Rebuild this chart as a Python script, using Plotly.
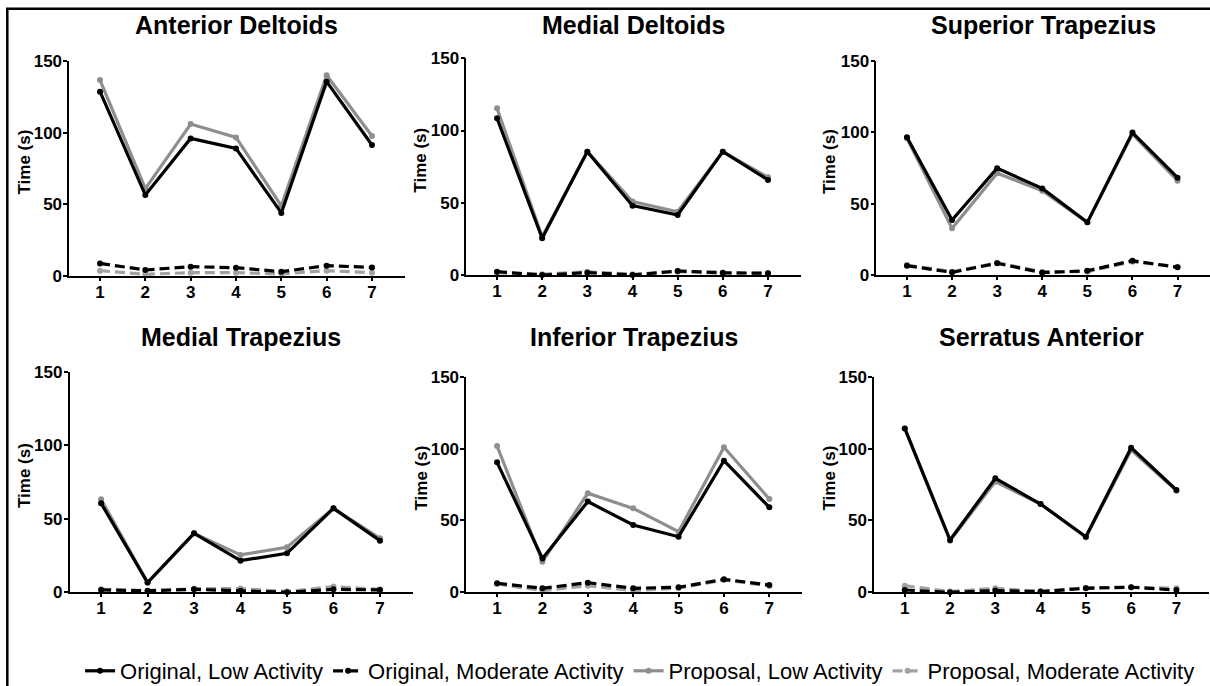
import plotly.graph_objects as go

# Muscles shown in the 2x3 grid (row-major order)
muscles = ["Anterior Deltoids", "Medial Deltoids", "Superior Trapezius",
           "Medial Trapezius", "Inferior Trapezius", "Serratus Anterior"]
conditions = [1, 2, 3, 4, 5, 6, 7]
y_ticks = [0, 50, 100, 150]
y_title = "Time (s)"

# Time (s) per condition, one row per muscle
original_low = [
    [128.6, 56.5, 96.0, 89.0, 44.0, 135.6, 91.4],
    [108.5, 25.4, 85.4, 48.0, 41.5, 85.4, 65.8],
    [96.5, 38.6, 74.8, 60.7, 36.9, 99.8, 68.2],
    [60.5, 6.6, 40.1, 21.5, 26.5, 57.1, 35.1],
    [90.4, 23.6, 63.1, 46.8, 38.7, 91.6, 59.1],
    [114.0, 36.4, 79.3, 61.4, 38.7, 100.6, 71.2],
]
original_moderate = [
    [8.8, 4.2, 6.5, 5.8, 3.0, 7.2, 6.0],
    [2.3, 0.0, 1.6, 0.0, 2.8, 1.6, 1.2],
    [6.5, 1.9, 8.2, 1.6, 3.0, 10.0, 5.4],
    [1.6, 1.1, 2.0, 1.1, 0.0, 2.0, 1.6],
    [6.3, 2.8, 6.7, 2.8, 3.5, 9.0, 5.1],
    [1.6, 0.0, 1.2, 0.5, 2.8, 3.5, 1.6],
]
proposal_low = [
    [136.7, 61.0, 106.0, 96.7, 49.0, 140.0, 97.7],
    [115.4, 26.5, 85.4, 50.8, 43.8, 85.4, 67.6],
    [95.8, 32.7, 71.3, 59.1, 36.9, 98.8, 66.1],
    [63.2, 6.6, 40.1, 25.4, 30.6, 57.1, 36.7],
    [101.8, 21.3, 68.9, 58.4, 42.2, 100.9, 64.9],
    [114.0, 35.9, 77.0, 61.4, 38.3, 99.0, 70.7],
]
proposal_moderate = [
    [3.7, 1.2, 2.3, 2.3, 1.4, 3.7, 2.3],
    [1.6, 0.5, 2.3, 0.5, 2.3, 1.2, 1.2],
    [7.0, 2.3, 8.6, 2.3, 2.3, 9.3, 5.8],
    [2.0, 0.9, 2.5, 2.5, 0.5, 3.9, 2.0],
    [5.8, 1.2, 4.6, 1.2, 2.8, 8.6, 4.4],
    [4.6, 0.5, 2.8, 0.5, 3.2, 3.5, 2.8],
]

W, H = 1210, 686
BLACK = "#000000"
GRAY = "#8e8e8e"
LIGHT_GRAY = "#a2a2a2"
FONT = "Liberation Sans, Arial, sans-serif"

# Plot areas in pixels: (left, right, top, bottom)
boxes = [
    (69.2, 404.6, 61.0, 276.0),
    (466.3, 800.5, 58.3, 275.0),
    (876.3, 1210.0, 61.0, 275.0),
    (69.5, 413.4, 371.7, 592.3),
    (466.2, 802.0, 376.7, 592.3),
    (874.0, 1209.0, 376.7, 592.3),
]
title_rows = [25, 25, 25, 337, 337, 337]
ytitle_cols = [24, 421, 830, 24, 421, 829]

# Series drawn grey first so the black lines sit on top
series = [
    ("Proposal, Moderate Activity", proposal_moderate, LIGHT_GRAY, "10px,5px", 4),
    ("Proposal, Low Activity", proposal_low, GRAY, "solid", 3),
    ("Original, Moderate Activity", original_moderate, BLACK, "10px,5px", 2),
    ("Original, Low Activity", original_low, BLACK, "solid", 1),
]

fig = go.Figure()
layout = {}
annotations = []

for i, muscle in enumerate(muscles):
    n = "" if i == 0 else str(i + 1)
    l, r, t, b = boxes[i]
    for name, data, color, dash, rank in series:
        fig.add_trace(go.Scatter(
            x=conditions, y=data[i], name=name,
            mode="lines+markers",
            line=dict(color=color, width=3.2, dash=dash),
            marker=dict(color=color, size=6),
            xaxis="x" + n, yaxis="y" + n,
            showlegend=(i == 0), legendrank=rank,
            cliponaxis=False,
        ))
    layout["xaxis" + n] = dict(
        domain=[l / W, r / W], anchor="y" + n,
        range=[0.32, 7.72], tickvals=conditions,
        showline=True, linecolor=BLACK, linewidth=1.5,
        ticks="outside", ticklen=3, tickwidth=1.5, tickcolor=BLACK,
        ticklabelstandoff=-3,
        showgrid=False, zeroline=False,
        tickfont=dict(family=FONT, size=17, color=BLACK, weight="bold"),
    )
    layout["yaxis" + n] = dict(
        domain=[1 - b / H, 1 - t / H], anchor="x" + n,
        range=[0, 150], tickvals=y_ticks,
        showline=True, linecolor=BLACK, linewidth=1.5,
        ticks="outside", ticklen=4, tickwidth=1.5, tickcolor=BLACK,
        ticklabelstandoff=-2,
        showgrid=False, zeroline=False,
        tickfont=dict(family=FONT, size=17, color=BLACK, weight="bold"),
    )
    # panel title
    annotations.append(dict(
        text=muscle, xref="paper", yref="paper",
        x=(l + r) / 2 / W, y=1 - title_rows[i] / H,
        xanchor="center", yanchor="middle", showarrow=False,
        font=dict(family=FONT, size=25, color=BLACK, weight="bold"),
    ))
    # y-axis title
    annotations.append(dict(
        text=y_title, xref="paper", yref="paper", textangle=-90,
        x=ytitle_cols[i] / W, y=1 - ((t + b) / 2 - 6) / H,
        xanchor="center", yanchor="middle", showarrow=False,
        font=dict(family=FONT, size=17, color=BLACK, weight="bold"),
    ))

fig.update_layout(
    width=W, height=H,
    margin=dict(l=0, r=0, t=0, b=0, autoexpand=False),
    paper_bgcolor="white", plot_bgcolor="white",
    annotations=annotations,
    legend=dict(
        orientation="h", x=0.529, xanchor="center",
        y=1 - 671 / H, yanchor="middle",
        font=dict(family=FONT, size=22, color=BLACK),
        itemwidth=30, bgcolor="rgba(0,0,0,0)",
    ),
    shapes=[
        dict(type="line", xref="paper", yref="paper",
             x0=7.3 / W, x1=7.3 / W, y0=0, y1=1 - 8.7 / H,
             line=dict(color=BLACK, width=2.5)),
        dict(type="line", xref="paper", yref="paper",
             x0=6 / W, x1=1, y0=1 - 8.7 / H, y1=1 - 8.7 / H,
             line=dict(color=BLACK, width=2.5)),
    ],
    **layout,
)

fig.write_html("out.html")
